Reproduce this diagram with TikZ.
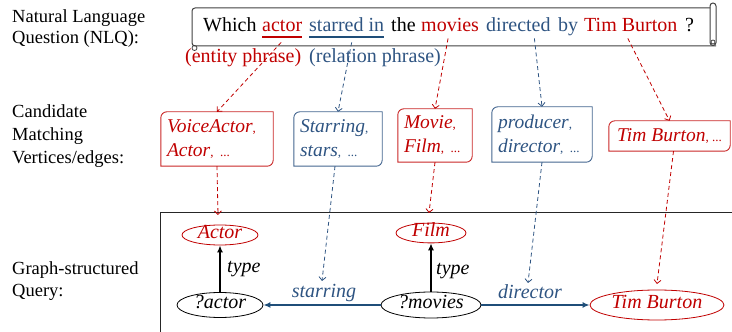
\documentclass[tikz,border=0pt]{standalone}
\usepackage{fontspec}
\setmainfont{Liberation Serif}
\usetikzlibrary{arrows.meta,shapes.geometric}
\definecolor{qred}{RGB}{192,0,0}
\definecolor{qblue}{RGB}{46,84,130}
\definecolor{qbline}{RGB}{31,78,121}
\newcommand\smalldots[1]{{\upshape\fontsize{13}{13}\selectfont #1}}
\newcommand\candoutline[2]{%
  \draw[#2, line width=0.9pt] ([yshift=-6pt]#1.north west) arc[start angle=180,end angle=90,radius=6pt]
    -- (#1.north east) -- ([yshift=6pt]#1.south east) arc[start angle=0,end angle=-90,radius=6pt]
    -- (#1.south west) -- cycle;}
\begin{document}
\begin{tikzpicture}[x=1pt,y=1pt,
  lab/.style={font=\rmfamily\fontsize{18.5}{20}\selectfont, anchor=base west, inner sep=0pt},
  qw/.style={font=\rmfamily\fontsize{20}{22}\selectfont, anchor=base west, inner sep=0pt},
  cand/.style={font=\rmfamily\fontsize{19.5}{24}\selectfont\itshape, inner xsep=6pt, inner ysep=0pt, align=left},
  ell/.style={ellipse, draw, line width=0.8pt, inner sep=0pt, text height=11pt, text depth=3pt,
    font=\rmfamily\fontsize{20}{22}\selectfont\itshape},
  elab/.style={font=\rmfamily\fontsize{20}{22}\selectfont\itshape, inner sep=0pt},
  dasharr/.style={line width=0.8pt, dash pattern=on 4pt off 3pt, -{Straight Barb[length=3.5pt,width=7pt]}},
  solidarr/.style={line width=1.8pt, -{Latex[length=7pt,width=6pt]}},
]
\useasboundingbox (0,0) rectangle (732,332);

% left labels
\node[lab] (l1) at (12,309) {Natural Language};
\node[lab] (l2) at (12,288) {Question (NLQ):};
\node[lab] (l3) at (12,214) {Candidate};
\node[lab] (l4) at (12,191) {Matching};
\node[lab] (l5) at (12,168) {Vertices/edges:};
\node[lab] (l6) at (12,57) {Graph-structured};
\node[lab] (l7) at (12,35) {Query:};

% scroll
\draw[black!75, line width=1pt, rounded corners=3pt] (710,324) -- (192,324) -- (192,286) -- (716,286);
\draw[black!75, line width=1pt, rounded corners=3pt] (710,286.5) rectangle (716,329);
\draw[black!75, line width=0.8pt] (713,290) circle[radius=2pt];
\draw[black!75, line width=0.8pt] (194.5,284) circle[radius=2.5pt];

% question words
\node[qw] (wWhich) at (203,300) {Which};
\node[qw, text=qred] (wActor) at (262,300) {actor};
\node[qw, text=qblue] (wStarred) at (309,300) {starred in};
\node[qw] (wThe) at (391,300) {the};
\node[qw, text=qred] (wMovies) at (421,300) {movies};
\node[qw, text=qblue] (wDirected) at (486,300) {directed};
\node[qw, text=qblue] (wBy) at (558,300) {by};
\node[qw, text=qred] (wTim) at (584,300) {Tim Burton};
\node[qw] (wQ) at (685,300) {?};
\draw[qred, line width=2pt] ([yshift=-5pt]wActor.base west) -- ([yshift=-5pt]wActor.base east);
\draw[qbline, line width=2pt] ([yshift=-5pt]wStarred.base west) -- ([yshift=-5pt]wStarred.base east);

\node[qw, text=qred] (ent) at (185,269) {(entity phrase)};
\node[qw, text=qblue] (rel) at (309,269) {(relation phrase)};

% candidate boxes
\node[cand, text=qred, minimum width=112pt, minimum height=54pt, text width=100pt] (c1) at (217,193) {VoiceActor\smalldots{,}\\Actor\smalldots{, ...}};
\node[cand, text=qblue, minimum width=88pt, minimum height=54pt, text width=76pt] (c2) at (338,193) {Starring\smalldots{,}\\stars\smalldots{, ...}};
\node[cand, text=qred, minimum width=74pt, minimum height=53pt, text width=62pt] (c3) at (435,196.5) {Movie\smalldots{,}\\Film\smalldots{, ...}};
\node[cand, text=qblue, minimum width=100pt, minimum height=55pt, text width=88pt] (c4) at (542,197.5) {producer\smalldots{,}\\director\smalldots{, ...}};
\node[cand, text=qred, minimum width=121pt, minimum height=30pt, inner xsep=4pt] (c5) at (669.5,196) {Tim Burton\smalldots{, ...}};
\candoutline{c1}{qred!85}
\candoutline{c2}{qblue!90}
\candoutline{c3}{qred!85}
\candoutline{c4}{qblue!90}
\candoutline{c5}{qred!85}

% word -> candidate dashed arrows
\draw[dasharr, qred] ([xshift=-1pt,yshift=-10pt]wActor.south) -- (c1.north);
\draw[dasharr, qblue] ([xshift=5pt,yshift=-10pt]wStarred.south) -- (c2.north);
\draw[dasharr, qred] ([xshift=-2pt,yshift=-6pt]wMovies.south) -- (c3.north);
\draw[dasharr, qblue] ([xshift=16pt,yshift=-6pt]wDirected.south) -- (c4.north);
\draw[dasharr, qred] ([xshift=-3pt,yshift=-6pt]wTim.south) -- (c5.north);

% query box
\draw[black!85, line width=1pt] (160,0) -- (160,119) -- (732,119);

% graph nodes
\node[ell, draw=qred, text=qred, minimum width=76pt, minimum height=20pt] (Actor) at (220,97) {Actor};
\node[ell, minimum width=86pt, minimum height=25pt] (qa) at (220,27) {?actor};
\node[ell, draw=qred, text=qred, minimum width=70pt, minimum height=18pt] (Film) at (431,99) {Film};
\node[ell, minimum width=100pt, minimum height=26pt] (qm) at (431,27) {?movies};
\node[ell, draw=qred, text=qred, minimum width=134pt, minimum height=30pt] (tb) at (657,27) {Tim Burton};

% graph edges
\draw[solidarr, black] (qa.north) -- (Actor.south);
\draw[solidarr, black] (qm.north) -- (Film.south);
\draw[solidarr, qbline] (qm.west) -- (qa.east);
\draw[solidarr, qbline] (qm.east) -- (tb.west);
\node[elab, anchor=base west] (t1) at (227,59) {type};
\node[elab, anchor=base west] (t2) at (436,57) {type};
\node[elab, anchor=base, text=qblue] (ls) at (324,34) {starring};
\node[elab, anchor=base, text=qblue] (ld) at (530,33) {director};

% candidate -> query dashed arrows
\coordinate (e1) at (218,117);
\coordinate (e2) at (322,51);
\coordinate (e3) at (429,119);
\coordinate (e4) at (528,49);
\coordinate (e5) at (657,48);
\draw[dasharr, qred] (c1.south) -- (e1);
\draw[dasharr, qblue] ([xshift=-3pt]c2.south) -- (e2);
\draw[dasharr, qred] (c3.south) -- (e3);
\draw[dasharr, qblue] (c4.south) -- (e4);
\draw[dasharr, qred] ([xshift=4pt]c5.south) -- (e5);
\end{tikzpicture}
\end{document}
